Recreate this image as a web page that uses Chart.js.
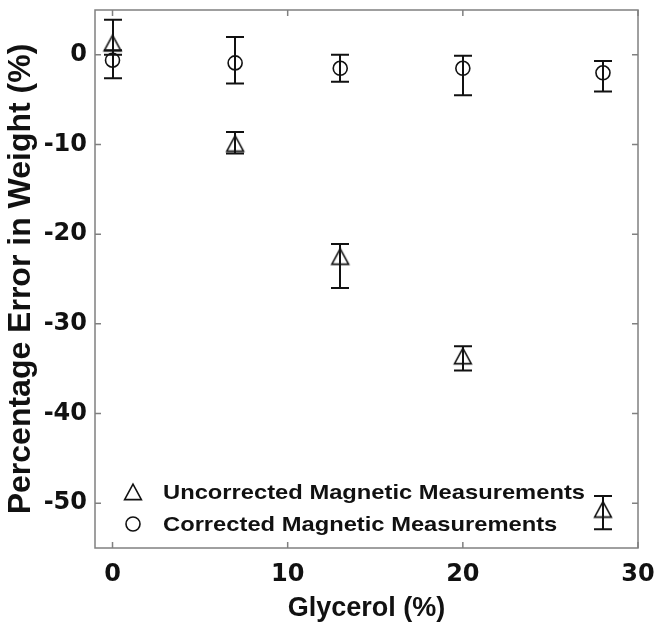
<!DOCTYPE html>
<html><head><meta charset="utf-8">
<script src="https://cdn.jsdelivr.net/npm/chart.js@4/dist/chart.umd.min.js"></script>
<style>html,body{margin:0;padding:0;background:#fff}#wrap{width:662px;height:640px}</style>
</head><body><div id="wrap"><canvas id="c" width="662" height="640"></canvas></div>
<script>
const glycerol = [0, 7, 13, 20, 28];
const uncorrected = [1.3, -9.9, -22.5, -33.6, -50.7];
const uncorrectedHigh = [3.9, -8.6, -21.1, -32.5, -49.2];
const uncorrectedLow = [0.0, -11.0, -26.0, -35.2, -52.9];
const corrected = [-0.6, -0.9, -1.5, -1.5, -2.0];
const correctedHigh = [0.5, 2.0, 0.0, -0.1, -0.7];
const correctedLow = [-2.6, -3.2, -3.0, -4.5, -4.1];
const xTicks = [0, 10, 20, 30];
const yTicks = [0, -10, -20, -30, -40, -50];
const seriesNames = ['Uncorrected Magnetic Measurements', 'Corrected Magnetic Measurements'];

const WIDE = '"DejaVu Sans", Verdana, sans-serif';
const FONT = '"Liberation Sans", Arial, sans-serif';
const INK = '#111';
const FRAME = '#808080';

// MATLAB-like triangle marker (centered on its bounding box)
const tri = document.createElement('canvas');
tri.width = 22; tri.height = 22;
(function(){
  const t = tri.getContext('2d');
  t.strokeStyle = INK; t.lineWidth = 1.6; t.lineJoin = 'miter';
  t.beginPath(); t.moveTo(11, 3.2); t.lineTo(2.6, 18.6); t.lineTo(19.4, 18.6); t.closePath(); t.stroke();
})();

const errorBars = {
  id: 'errorBars',
  afterDatasetsDraw(chart) {
    const {ctx, scales: {x, y}} = chart;
    ctx.save();
    ctx.strokeStyle = INK; ctx.lineWidth = 2;
    [[uncorrectedHigh, uncorrectedLow], [correctedHigh, correctedLow]].forEach(([hi, lo]) => {
      glycerol.forEach((g, i) => {
        const px = Math.round(x.getPixelForValue(g));
        const p1 = y.getPixelForValue(hi[i]), p2 = y.getPixelForValue(lo[i]);
        ctx.beginPath();
        ctx.moveTo(px, p1); ctx.lineTo(px, p2);
        ctx.moveTo(px - 9, p1); ctx.lineTo(px + 9, p1);
        ctx.moveTo(px - 9, p2); ctx.lineTo(px + 9, p2);
        ctx.stroke();
      });
    });
    ctx.restore();
  }
};

const frame = {
  id: 'frame',
  afterDraw(chart) {
    const {ctx, chartArea: a, scales: {x, y}} = chart;
    ctx.save();
    ctx.strokeStyle = FRAME; ctx.lineWidth = 1.5;
    ctx.strokeRect(a.left, a.top, a.right - a.left, a.bottom - a.top);
    ctx.beginPath();
    xTicks.forEach(v => {
      const px = x.getPixelForValue(v);
      ctx.moveTo(px, a.bottom); ctx.lineTo(px, a.bottom - 6);
      ctx.moveTo(px, a.top); ctx.lineTo(px, a.top + 6);
    });
    yTicks.forEach(v => {
      const py = y.getPixelForValue(v);
      ctx.moveTo(a.left, py); ctx.lineTo(a.left + 6, py);
      ctx.moveTo(a.right, py); ctx.lineTo(a.right - 6, py);
    });
    ctx.stroke();
    // legend (Helvetica-like bold, slightly widened like the original)
    const lx = 133, ly = [492, 524], tx = 163;
    ctx.drawImage(tri, lx - 11, ly[0] - 11);
    ctx.strokeStyle = INK; ctx.lineWidth = 1.6;
    ctx.beginPath(); ctx.arc(lx, ly[1], 7, 0, Math.PI * 2); ctx.stroke();
    ctx.fillStyle = INK;
    ctx.font = 'bold 21px ' + FONT;
    ctx.textBaseline = 'middle';
    ctx.textAlign = 'left';
    const w0 = ctx.measureText(seriesNames[0]).width;
    const sx = 422 / w0;
    seriesNames.forEach((name, i) => {
      ctx.save();
      ctx.translate(tx, ly[i] + 1);
      ctx.scale(sx, 1);
      ctx.fillText(name, 0, 0);
      ctx.restore();
    });
    ctx.restore();
  }
};

new Chart(document.getElementById('c'), {
  type: 'scatter',
  data: {
    datasets: [
      { label: seriesNames[0], data: glycerol.map((g, i) => ({x: g, y: uncorrected[i]})),
        pointStyle: tri, pointRadius: 9, borderColor: INK, backgroundColor: 'transparent' },
      { label: seriesNames[1], data: glycerol.map((g, i) => ({x: g, y: corrected[i]})),
        pointStyle: 'circle', pointRadius: 7, borderWidth: 1.6, borderColor: INK, backgroundColor: 'transparent' }
    ]
  },
  options: {
    responsive: false, animation: false, devicePixelRatio: 1,
    layout: { padding: { left: 0, right: 24, top: 8, bottom: 0 } },
    plugins: { legend: { display: false }, tooltip: { enabled: false } },
    scales: {
      x: {
        type: 'linear', min: -1, max: 30,
        afterBuildTicks: s => { s.ticks = xTicks.map(v => ({value: v})); },
        afterFit: s => { s.height = 92; s.paddingLeft = 0; s.paddingRight = 0; },
        grid: { display: false, drawTicks: false },
        border: { display: false },
        ticks: { color: INK, padding: 12, font: { family: WIDE, size: 24, weight: 'bold' } },
        title: { display: true, text: 'Glycerol (%)', color: INK, padding: { top: 0, bottom: 15 },
                 font: { family: FONT, size: 27, weight: 'bold' } }
      },
      y: {
        type: 'linear', min: -55, max: 5,
        afterBuildTicks: s => { s.ticks = yTicks.map(v => ({value: v})); },
        afterFit: s => { s.width = 95; s.paddingTop = 0; s.paddingBottom = 0; },
        grid: { display: false, drawTicks: false },
        border: { display: false },
        ticks: { color: INK, padding: 8, font: { family: WIDE, size: 24, weight: 'bold' } },
        title: { display: true, text: 'Percentage Error in Weight (%)', color: INK, padding: { top: 2, bottom: 0 },
                 font: { family: FONT, size: 32, weight: 'bold' } }
      }
    }
  },
  plugins: [errorBars, frame]
});
</script></body></html>
